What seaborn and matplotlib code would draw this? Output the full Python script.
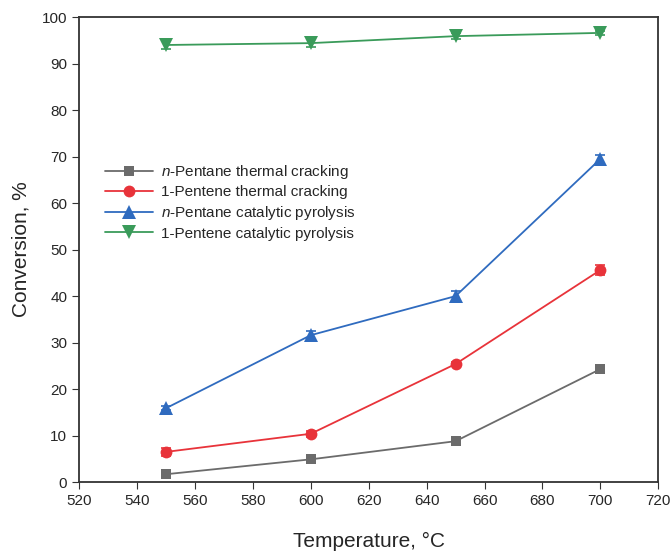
import pandas as pd
import matplotlib
matplotlib.use('Agg')
import matplotlib.pyplot as plt
import seaborn as sns

# ========================================
# Данные
# ========================================
temperature = [550, 600, 650, 700]

pentane_thermal = [1.7, 4.9, 8.8, 24.3]
pentene_thermal = [6.5, 10.4, 25.4, 45.6]
pentane_catalytic = [15.9, 31.6, 40.0, 69.5]
pentene_catalytic = [94.0, 94.4, 95.9, 96.6]

pentane_thermal_err = [0.8, 0.7, 0.8, 0.7]
pentene_thermal_err = [0.9, 0.7, 0.5, 1.0]
pentane_catalytic_err = [0.4, 1.0, 1.0, 0.8]
pentene_catalytic_err = [0.8, 0.8, 0.6, 0.5]

labels = ['$\\it{n}$-Pentane thermal cracking',
          '1-Pentene thermal cracking',
          '$\\it{n}$-Pentane catalytic pyrolysis',
          '1-Pentene catalytic pyrolysis']

series = [pentane_thermal, pentene_thermal, pentane_catalytic, pentene_catalytic]
errors = [pentane_thermal_err, pentene_thermal_err, pentane_catalytic_err, pentene_catalytic_err]
colors = ['#6b6b6b', '#e8333a', '#2f6bbf', '#3a9b5a']
markers = ['s', 'o', '^', 'v']
msizes = [7, 8.5, 9.5, 9.5]

# ========================================
# Стиль
# ========================================
sns.set_style('ticks')
plt.rcParams['font.family'] = ['Liberation Sans', 'DejaVu Sans']
plt.rcParams['mathtext.fontset'] = 'custom'
plt.rcParams['mathtext.it'] = 'Liberation Sans:italic'
plt.rcParams['mathtext.rm'] = 'Liberation Sans'

fig = plt.figure(figsize=(6.71, 5.51), dpi=100)
ax = fig.add_axes([0.118, 0.125, 0.863, 0.844])

rows = []
for lab, vals in zip(labels, series):
    for t, v in zip(temperature, vals):
        rows.append({'Temperature': t, 'Conversion': v, 'Series': lab})
df = pd.DataFrame(rows)

sns.lineplot(data=df, x='Temperature', y='Conversion', hue='Series', style='Series',
             hue_order=labels, style_order=labels,
             palette=colors, markers=markers, dashes=False,
             markersize=8, markeredgewidth=0, linewidth=1.3, ax=ax, legend=False)

# Размеры маркеров по сериям
for line, ms in zip(ax.lines, msizes):
    line.set_markersize(ms)

# Погрешности
for vals, err, c in zip(series, errors, colors):
    ax.errorbar(temperature, vals, yerr=err, fmt='none', ecolor=c,
                elinewidth=1.2, capsize=3.5, capthick=1.2, zorder=3)

ax.set_xlim(520, 720)
ax.set_ylim(0, 100)
ax.set_xticks(range(520, 721, 20))
ax.set_yticks(range(0, 101, 10))
ax.tick_params(labelsize=11, direction='out', length=5, color='#333333')
for s in ax.spines.values():
    s.set_color('#333333')
    s.set_linewidth(1.3)

ax.set_xlabel('Temperature, °C', fontsize=15, labelpad=17)
ax.set_ylabel('Conversion, %', fontsize=15, labelpad=8)

# Легенда
handles = [plt.Line2D([], [], color=c, marker=m, markersize=ms, markeredgewidth=0, linewidth=1.3)
           for c, m, ms in zip(colors, markers, msizes)]
ax.legend(handles, labels, loc='upper left', bbox_to_anchor=(0.02, 0.716), frameon=False,
          fontsize=11, handlelength=3.2, labelspacing=0.3, handletextpad=0.5)

plt.savefig('out.png', dpi=100)
